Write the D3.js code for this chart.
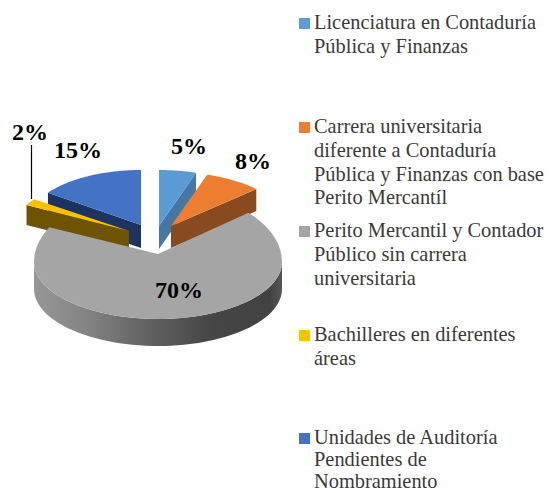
<!DOCTYPE html>
<html><head><meta charset="utf-8">
<script src="https://cdn.jsdelivr.net/npm/d3@7/dist/d3.min.js"></script>
<style>html,body{margin:0;padding:0;background:#fff}svg{display:block}</style>
</head><body><div id="c"></div>
<script>
const categories = [
  ["Licenciatura en Contaduría","Pública y Finanzas"],
  ["Carrera universitaria","diferente a Contaduría","Pública y Finanzas con base","Perito Mercantíl"],
  ["Perito Mercantil y Contador","Público sin carrera","universitaria"],
  ["Bachilleres en diferentes","áreas"],
  ["Unidades de Auditoría","Pendientes de","Nombramiento"]
];
const values = [5, 8, 70, 2, 15];
const topColors = ["#5B9BD5","#ED7D31","#A5A5A5","#FFC000","#4472C4"];
const wallColors = ["#4677A4","#8A4A1F","#666666","#6E5400","#1D3461"];
// projection per slice: centre, radii (back half / front half), apex, depth
const geo = [
  {cx:159,cy:226,rx:120,ryB:56,ryF:56,ax:159,ay:226,d:23},
  {cx:171,cy:226,rx:117,ryB:54,ryF:54,ax:171,ay:226,d:22},
  {cx:158,cy:262,rx:124,ryB:72,ryF:57,ax:158,ay:254,d:27},
  {cx:129,cy:231,rx:117,ryB:54,ryF:54,ax:129,ay:231,d:20},
  {cx:141,cy:225,rx:115,ryB:55,ryF:55,ax:141,ay:225,d:23}
];
const labelPos = [[189,154],[253,169],[179,298],[30,140],[78,158]];
const legendY = [29,133,237,341,444];
const legendGap = [23.8,23.8,23.8,23.8,22];
const order = [0,1,4,3,2];

const W=550,H=493;
const svg=d3.select("#c").append("svg").attr("width",W).attr("height",H);
const defs=svg.append("defs");
const g=defs.append("linearGradient").attr("id","side").attr("gradientUnits","userSpaceOnUse")
  .attr("x1",34).attr("x2",282).attr("y1",0).attr("y2",0);
[[0,"#979797"],[0.2,"#858585"],[0.45,"#636363"],[0.72,"#454545"],[0.95,"#424242"],[1,"#555555"]]
  .forEach(s=>g.append("stop").attr("offset",s[0]).attr("stop-color",s[1]));

const arcs=d3.pie().sort(null).startAngle(0).endAngle(2*Math.PI)(values);
const pt=(k,a)=>{const s=geo[k],c=Math.cos(a);return [s.cx+s.rx*Math.sin(a), s.cy-(c>=0?s.ryB:s.ryF)*c];};
const line=d3.line();
const samples=(k,a0,a1)=>d3.range(0,61).map(i=>pt(k,a0+(a1-a0)*i/60));
const layer=svg.append("g");
order.forEach(k=>{
  const a=arcs[k],s=geo[k],apex=[s.ax,s.ay];
  const wallAngle = a.endAngle<Math.PI ? a.endAngle : a.startAngle;
  if(k!==2){
    const o=pt(k,wallAngle);
    layer.append("path").attr("fill",wallColors[k])
      .attr("d",line([apex,o,[o[0],o[1]+s.d],[apex[0],apex[1]+s.d]])+"Z");
  } else {
    const a0=Math.PI/2,a1=3*Math.PI/2;
    const top=samples(k,a0,a1);
    const bottom=top.map(p=>[p[0],p[1]+s.d]).reverse();
    layer.append("path").attr("fill","url(#side)").attr("d",line(top.concat(bottom))+"Z");
  }
  layer.append("path").attr("fill",topColors[k])
    .attr("d",line([apex].concat(samples(k,a.startAngle,a.endAngle)))+"Z");
});
svg.append("line").attr("x1",31.5).attr("x2",31.5).attr("y1",145).attr("y2",199)
  .attr("stroke","#000").attr("stroke-width",1.2);
svg.append("g").selectAll("text").data(values).join("text")
  .attr("x",(d,i)=>labelPos[i][0]).attr("y",(d,i)=>labelPos[i][1])
  .attr("text-anchor","middle").attr("font-family","'Liberation Serif',serif")
  .attr("font-weight","bold").attr("font-size",24).attr("fill","#000")
  .text(d=>d+"%");
const lg=svg.append("g").selectAll("g").data(categories).join("g");
lg.append("rect").attr("x",299).attr("y",(d,i)=>legendY[i]-11).attr("width",11).attr("height",11)
  .attr("fill",(d,i)=>topColors[i]);
lg.each(function(lines,i){
  d3.select(this).selectAll("text").data(lines).join("text")
    .attr("x",314).attr("y",(d,j)=>legendY[i]+j*legendGap[i])
    .attr("font-family","'Liberation Serif',serif").attr("font-size",20.4).attr("fill","#3a3a3a")
    .text(d=>d);
});
</script></body></html>
